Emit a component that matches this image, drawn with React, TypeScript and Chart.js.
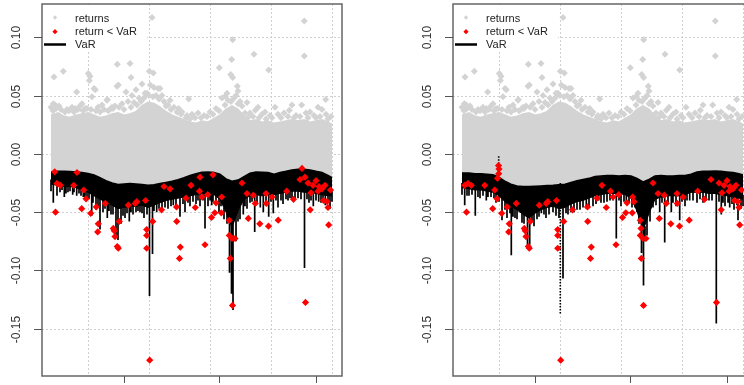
import React, { useEffect, useRef } from "react";
import { Chart, registerables } from "chart.js";
Chart.register(...registerables);

// ---------- axes ----------
const yTickValues = [0.1, 0.05, 0, -0.05, -0.1, -0.15];
const yTickLabels = ["0.10", "0.05", "0.00", "-0.05", "-0.10", "-0.15"];
const xTickPositions = [73.7, 169.3, 266];
const xGridPositions = [37.7, 99, 160.3, 221.3, 281.7];
const legendLabels = ["returns", "return < VaR", "VaR"];

// ---------- time grid used for the dense bands ----------
const bandT = [1, 8, 14, 20, 26, 32, 38, 44, 50, 56, 62, 68, 74, 80, 86, 92, 98, 104, 110, 116, 122, 128, 134, 140, 146, 152, 158, 164, 170, 176, 182, 188, 194, 200, 206, 212, 218, 224, 230, 236, 242, 248, 254, 260, 266, 272, 278, 282];

// upper edge of the dense cloud of returns
const returnsUpper = [0.033, 0.035, 0.032, 0.031, 0.033, 0.034, 0.035, 0.033, 0.031, 0.032, 0.034, 0.035, 0.033, 0.034, 0.036, 0.041, 0.044, 0.043, 0.04, 0.036, 0.033, 0.031, 0.029, 0.027, 0.026, 0.028, 0.027, 0.03, 0.033, 0.038, 0.041, 0.038, 0.032, 0.028, 0.029, 0.027, 0.028, 0.026, 0.027, 0.028, 0.029, 0.028, 0.029, 0.027, 0.028, 0.029, 0.027, 0.025];

// VaR, left panel (A): upper / lower edge of the dense oscillation
const varTopA = [-0.0155, -0.015, -0.015, -0.0152, -0.0155, -0.016, -0.0168, -0.018, -0.0205, -0.023, -0.025, -0.0262, -0.0258, -0.0255, -0.0258, -0.0262, -0.027, -0.0265, -0.0255, -0.0245, -0.0235, -0.0222, -0.0205, -0.0185, -0.017, -0.0158, -0.0155, -0.016, -0.0175, -0.0215, -0.0235, -0.0225, -0.0195, -0.0165, -0.0155, -0.0158, -0.016, -0.0175, -0.016, -0.015, -0.0138, -0.0133, -0.0133, -0.0138, -0.015, -0.016, -0.0185, -0.0205];
const varBottomA = [-0.026, -0.027, -0.028, -0.028, -0.029, -0.031, -0.033, -0.036, -0.039, -0.041, -0.044, -0.047, -0.046, -0.045, -0.045, -0.044, -0.046, -0.044, -0.042, -0.04, -0.039, -0.038, -0.037, -0.036, -0.035, -0.034, -0.034, -0.035, -0.039, -0.05, -0.063, -0.049, -0.039, -0.036, -0.035, -0.036, -0.035, -0.035, -0.034, -0.033, -0.032, -0.032, -0.033, -0.033, -0.034, -0.035, -0.036, -0.036];
const varSpikesA: [number, number][] = [[3.3, -0.042], [7, -0.036], [14.3, -0.037], [18, -0.033], [22.7, -0.035], [26.7, -0.036], [33.3, -0.037], [37, -0.04], [41.7, -0.053], [46, -0.048], [50, -0.065], [53, -0.05], [57.3, -0.055], [61, -0.052], [66, -0.07], [68, -0.074], [71, -0.06], [75, -0.055], [79.3, -0.058], [83, -0.052], [90, -0.05], [94, -0.055], [99.5, -0.122], [102.5, -0.086], [106.7, -0.05], [112, -0.048], [118, -0.047], [123.3, -0.044], [130, -0.054], [135, -0.05], [140, -0.045], [146, -0.043], [150, -0.045], [155, -0.064], [158, -0.045], [161.7, -0.044], [166, -0.042], [169, -0.05], [174, -0.056], [179.5, -0.102], [181.5, -0.12], [183, -0.134], [186, -0.075], [190, -0.056], [193.3, -0.052], [197, -0.047], [204.7, -0.067], [210.3, -0.046], [213.3, -0.05], [218.7, -0.054], [223.3, -0.051], [228, -0.046], [233, -0.043], [238, -0.04], [242, -0.039], [248, -0.038], [254.5, -0.098], [259, -0.042], [263.3, -0.045], [268.7, -0.041], [271, -0.042], [275.3, -0.044], [280, -0.047],
  [1, -0.032], [10, -0.033], [12, -0.031], [16, -0.034], [20, -0.032], [24, -0.033], [29, -0.034], [31, -0.036], [35, -0.038], [39, -0.039], [43, -0.042], [48, -0.045], [55, -0.047], [59, -0.049], [63, -0.052], [73, -0.053], [77, -0.051], [81, -0.05], [86, -0.05], [88, -0.049], [92, -0.051], [97, -0.052], [104, -0.049], [109, -0.047], [115, -0.046], [121, -0.045], [126, -0.044], [133, -0.043], [138, -0.042], [143, -0.041], [148, -0.04], [153, -0.04], [160, -0.04], [163, -0.041], [171, -0.045], [177, -0.06], [188, -0.058], [195, -0.045], [200, -0.042], [202, -0.041], [207, -0.042], [216, -0.041], [221, -0.041], [226, -0.04], [231, -0.04], [236, -0.039], [240, -0.038], [245, -0.038], [251, -0.039], [257, -0.039], [261, -0.04], [266, -0.04], [273, -0.041], [278, -0.042], [282, -0.041]];

// VaR, right panel (B)
const varTopB = [-0.0165, -0.0165, -0.017, -0.017, -0.0175, -0.018, -0.02, -0.0235, -0.026, -0.0275, -0.028, -0.028, -0.0278, -0.0275, -0.0272, -0.027, -0.0265, -0.026, -0.0245, -0.023, -0.022, -0.021, -0.0195, -0.019, -0.0185, -0.0185, -0.019, -0.0185, -0.019, -0.021, -0.024, -0.022, -0.019, -0.0185, -0.019, -0.019, -0.0185, -0.0185, -0.0175, -0.0155, -0.015, -0.015, -0.0148, -0.015, -0.0155, -0.016, -0.017, -0.018];
const varBottomB = [-0.029, -0.03, -0.031, -0.031, -0.032, -0.033, -0.036, -0.041, -0.045, -0.048, -0.052, -0.055, -0.051, -0.048, -0.046, -0.045, -0.047, -0.046, -0.043, -0.041, -0.04, -0.038, -0.036, -0.035, -0.034, -0.034, -0.034, -0.035, -0.038, -0.049, -0.066, -0.051, -0.039, -0.037, -0.036, -0.036, -0.036, -0.035, -0.033, -0.033, -0.033, -0.034, -0.034, -0.035, -0.036, -0.037, -0.038, -0.039];
const varSpikesB: [number, number][] = [[3.7, -0.044], [8, -0.036], [14.3, -0.053], [19, -0.038], [25.3, -0.04], [30, -0.037], [35, -0.042], [41, -0.057], [46, -0.055], [50.3, -0.087], [54, -0.055], [58.7, -0.05], [63, -0.06], [66.5, -0.08], [68.7, -0.078], [73, -0.062], [80.3, -0.051], [85, -0.055], [92, -0.05], [102, -0.107], [107, -0.052], [113, -0.05], [119, -0.048], [125.3, -0.047], [132, -0.045], [137.7, -0.04], [143, -0.042], [149, -0.04], [155.3, -0.0726], [160, -0.045], [165.3, -0.043], [171, -0.046], [176, -0.05], [180.5, -0.085], [182.5, -0.113], [186, -0.07], [192, -0.046], [198.7, -0.05], [203.7, -0.076], [210.3, -0.05], [215, -0.045], [218.7, -0.057], [224, -0.045], [228.7, -0.04], [236, -0.042], [242, -0.042], [248, -0.04], [255.3, -0.1455], [260.3, -0.052], [264, -0.045], [268.7, -0.046], [273, -0.048], [277, -0.057], [280, -0.047],
  [1, -0.035], [6, -0.036], [11, -0.035], [17, -0.037], [22, -0.036], [27, -0.037], [33, -0.038], [38, -0.041], [44, -0.048], [49, -0.051], [52, -0.054], [56, -0.056], [61, -0.059], [71, -0.058], [76, -0.056], [78, -0.054], [83, -0.052], [88, -0.052], [95, -0.053], [98, -0.055], [105, -0.051], [110, -0.05], [116, -0.048], [122, -0.046], [128, -0.045], [135, -0.043], [140, -0.042], [146, -0.041], [152, -0.04], [158, -0.04], [163, -0.041], [168, -0.042], [174, -0.046], [178, -0.06], [184, -0.075], [189, -0.058], [195, -0.044], [201, -0.042], [207, -0.042], [212, -0.042], [221, -0.041], [226, -0.04], [232, -0.04], [239, -0.039], [245, -0.04], [251, -0.04], [258, -0.041], [262, -0.042], [267, -0.042], [271, -0.043], [276, -0.044], [282, -0.045]];
// thin dotted jumps of VaR in panel B: [t, from, to]
const varDottedB: [number, number, number][] = [[37.7, -0.002, -0.03], [99.3, -0.025, -0.137]];

// scattered returns above the dense cloud
const returnsScatter: [number, number][] = [[4, 0.066], [13.3, 0.071], [3.3, 0.043], [26.7, 0.053], [38.3, 0.069], [40, 0.0666], [39.3, 0.063], [44, 0.056], [45.3, 0.055], [42, 0.049], [67.3, 0.077], [80, 0.0775], [81, 0.0655], [68.3, 0.059], [67, 0.058], [76, 0.053], [86, 0.055], [82, 0.05], [57, 0.046], [57.3, 0.0467], [62, 0.04], [25.3, 0.039], [32, 0.043], [5.3, 0.042], [99.3, 0.071], [103.3, 0.0695], [102, 0.117], [104, 0.057], [110, 0.056], [92, 0.06], [100.3, 0.059], [108, 0.056], [95, 0.052], [112, 0.05], [120, 0.046], [138.7, 0.047], [128.7, 0.039], [137, 0.033], [169.3, 0.074], [181.7, 0.081], [182.7, 0.098], [180.7, 0.068], [182.7, 0.0655], [187.3, 0.058], [188, 0.054], [175.3, 0.0495], [172, 0.048], [177, 0.052], [186, 0.05], [190, 0.045], [204, 0.0855], [218.7, 0.072], [254.3, 0.114], [254.3, 0.084], [239.3, 0.0375], [251.7, 0.042], [275.7, 0.0467], [205.3, 0.0374], [198, 0.0315], [272, 0.038], [197, 0.044], [208, 0.04], [215, 0.036], [225, 0.04], [234, 0.035], [242, 0.042], [260, 0.036], [268, 0.04], [1, 0.04], [9, 0.041], [17, 0.038], [22, 0.04], [30, 0.041], [35, 0.039], [48, 0.04], [52, 0.042], [60, 0.038], [65, 0.041], [72, 0.043], [78, 0.045], [84, 0.044], [89, 0.048], [97, 0.052], [106, 0.05], [114, 0.045], [118, 0.042], [124, 0.04], [132, 0.036], [142, 0.034], [148, 0.035], [154, 0.033], [160, 0.036], [166, 0.039], [178, 0.046], [184, 0.048], [192, 0.041], [200, 0.035], [212, 0.034], [220, 0.033], [228, 0.034], [246, 0.033], [256, 0.035], [264, 0.033], [276, 0.034], [281, 0.032],
  [3, 0.037], [6, 0.039], [11, 0.038], [15, 0.036], [19, 0.037], [24, 0.036], [28, 0.038], [33, 0.037], [37, 0.039], [41, 0.038], [46, 0.037], [50, 0.036], [54, 0.038], [58, 0.037], [63, 0.039], [69, 0.04], [74, 0.038], [81, 0.04], [87, 0.042], [91, 0.045], [94, 0.048], [99, 0.05], [103, 0.049], [109, 0.047], [116, 0.041], [121, 0.038], [127, 0.036], [131, 0.034], [136, 0.031], [140, 0.03], [145, 0.031], [151, 0.031], [157, 0.032], [163, 0.034], [169, 0.037], [175, 0.042], [181, 0.045], [188, 0.043], [195, 0.035], [203, 0.032], [209, 0.031], [216, 0.03], [222, 0.031], [231, 0.031], [238, 0.032], [244, 0.031], [250, 0.032], [258, 0.031], [266, 0.031], [270, 0.032], [278, 0.03]];

// returns below VaR (both panels)
const redCommon: [number, number][] = [[5.5, -0.05], [7, -0.0254], [10.3, -0.027], [23.7, -0.027], [31.7, -0.047], [33.7, -0.031], [36, -0.0386], [40.7, -0.051], [46.3, -0.0455], [48.3, -0.06], [47.7, -0.067], [55.3, -0.0425], [63.3, -0.064], [64.3, -0.066], [65, -0.071], [67.3, -0.0795], [68.3, -0.081], [69.3, -0.058], [78.3, -0.044], [85.3, -0.0425], [86.7, -0.041], [95.5, -0.04], [96.7, -0.065], [96.7, -0.07], [96.7, -0.081], [99.7, -0.177], [102.7, -0.058], [111.5, -0.048], [126.5, -0.0455], [126.7, -0.058], [130.3, -0.08], [129.5, -0.0897], [136, -0.038], [141, -0.027], [145.3, -0.046], [149.5, -0.032], [152, -0.037], [155, -0.078], [157.7, -0.035], [161.5, -0.0545], [164.8, -0.0506], [166, -0.042], [171.3, -0.0506], [171.7, -0.037], [179.3, -0.057], [179.3, -0.07], [182, -0.0726], [185, -0.0726], [180.3, -0.0897], [182.5, -0.13], [192, -0.025], [197, -0.034], [198.3, -0.0554], [203.3, -0.0354], [205.3, -0.0425], [209.8, -0.06], [216, -0.034], [216.3, -0.0425], [218.5, -0.062], [222, -0.037], [228.2, -0.0569], [236.7, -0.032], [243.5, -0.039], [255.5, -0.1275], [260.2, -0.048], [261, -0.0334], [273.5, -0.04], [277, -0.041], [278, -0.046], [278.7, -0.061], [280.5, -0.031], [250, -0.022], [258, -0.025], [263, -0.027], [266, -0.023], [269, -0.028], [272, -0.03], [275, -0.027], [268, -0.032]];
const redOnlyA: [number, number][] = [[4.7, -0.0154], [27, -0.016], [252, -0.0125], [255, -0.02], [150, -0.02], [163, -0.018], [114, -0.028], [120, -0.03]];
const redOnlyB: [number, number][] = [[37.5, -0.01], [38, -0.013], [37.7, -0.017], [36.5, -0.021], [3.7, -0.027], [173, -0.041], [180, -0.064]];

// ---------- colours ----------
const GRAY = "#d3d3d3";
const RED = "#ff0000";

function nearestBand(t: number) {
  let b = 0;
  for (let i = 0; i < bandT.length; i++) if (Math.abs(bandT[i] - t) < Math.abs(bandT[b] - t)) b = i;
  return b;
}

function buildDatasets(varTop: number[], varBottom: number[], spikes: [number, number][], dotted: [number, number, number][], reds: [number, number][]) {
  const spikeData: any[] = [];
  spikes.forEach(([t, v]) => {
    const base = varBottom[nearestBand(t)] + 0.004;
    spikeData.push({ x: t, y: base }, { x: t, y: v }, { x: t, y: null });
  });
  const dottedData: any[] = [];
  dotted.forEach(([t, a, b]) => {
    dottedData.push({ x: t, y: a }, { x: t, y: b }, { x: t, y: null });
  });
  return [
    { label: "band", data: bandT.map((t, i) => ({ x: t, y: returnsUpper[i] })), borderColor: GRAY, borderWidth: 2, backgroundColor: GRAY, fill: 2, pointRadius: 0, order: 6 },
    { label: "varTop", data: bandT.map((t, i) => ({ x: t, y: varTop[i] })), borderColor: "#000", borderWidth: 1.5, backgroundColor: "#000", fill: "+1", pointRadius: 0, order: 2 },
    { label: "varBottom", data: bandT.map((t, i) => ({ x: t, y: varBottom[i] })), borderColor: "#000", borderWidth: 1, fill: false, pointRadius: 0, order: 2 },
    { label: "spikes", data: spikeData, borderColor: "#000", borderWidth: 1.7, fill: false, pointRadius: 0, spanGaps: false, order: 2 },
    { label: "dotted", data: dottedData, borderColor: "#000", borderWidth: 1.6, borderDash: [1.5, 1.5], fill: false, pointRadius: 0, spanGaps: false, order: 2 },
    { label: "returns", data: returnsScatter.map(([t, v]) => ({ x: t, y: v })), showLine: false, pointStyle: "rectRot", pointRadius: 3.5, pointBackgroundColor: GRAY, pointBorderWidth: 0, order: 5 },
    { label: "red", data: reds.map(([t, v]) => ({ x: t, y: v })), showLine: false, pointStyle: "rectRot", pointRadius: 3.6, pointBackgroundColor: RED, pointBorderWidth: 0, order: 0 },
  ];
}

const FONT = '"Liberation Sans", Arial, sans-serif';

const rPlugin = {
  id: "rStyle",
  beforeDatasetsDraw(chart: any) {
    const { ctx, chartArea: a, scales } = chart;
    ctx.save();
    ctx.strokeStyle = "#cfcfcf";
    ctx.lineWidth = 1;
    ctx.setLineDash([2, 2]);
    yTickValues.forEach((v) => {
      const y = Math.round(scales.y.getPixelForValue(v)) + 0.5;
      ctx.beginPath();
      ctx.moveTo(a.left, y);
      ctx.lineTo(a.right, y);
      ctx.stroke();
    });
    xGridPositions.forEach((t) => {
      const x = Math.round(scales.x.getPixelForValue(t)) + 0.5;
      ctx.beginPath();
      ctx.moveTo(x, a.top);
      ctx.lineTo(x, a.bottom);
      ctx.stroke();
    });
    ctx.restore();
  },
  afterDraw(chart: any) {
    const { ctx, chartArea: a, scales } = chart;
    ctx.save();
    // legend (white background, no border)
    ctx.fillStyle = "#fff";
    ctx.fillRect(a.left + 1, a.top + 1, 104, 45);
    const diamond = (x: number, y: number, r: number, c: string) => {
      ctx.fillStyle = c;
      ctx.beginPath();
      ctx.moveTo(x - r, y);
      ctx.lineTo(x, y - r);
      ctx.lineTo(x + r, y);
      ctx.lineTo(x, y + r);
      ctx.closePath();
      ctx.fill();
    };
    diamond(a.left + 13, a.top + 13.5, 2.2, GRAY);
    diamond(a.left + 13, a.top + 27.7, 2.6, RED);
    ctx.strokeStyle = "#000";
    ctx.lineWidth = 2.5;
    ctx.beginPath();
    ctx.moveTo(a.left + 2, a.top + 40.5);
    ctx.lineTo(a.left + 24, a.top + 40.5);
    ctx.stroke();
    ctx.fillStyle = "#222";
    ctx.font = "11px " + FONT;
    ctx.textAlign = "left";
    ctx.textBaseline = "middle";
    legendLabels.forEach((s, i) => ctx.fillText(s, a.left + 33, a.top + 15.3 + i * 13));

    // box
    ctx.strokeStyle = "#666";
    ctx.lineWidth = 1.5;
    ctx.strokeRect(a.left, a.top, a.right - a.left, a.bottom - a.top);

    // y ticks + rotated labels
    ctx.lineWidth = 1;
    ctx.strokeStyle = "#555";
    ctx.fillStyle = "#333";
    ctx.font = "12px " + FONT;
    ctx.textAlign = "center";
    ctx.textBaseline = "middle";
    yTickValues.forEach((v, i) => {
      const y = Math.round(scales.y.getPixelForValue(v)) + 0.5;
      ctx.beginPath();
      ctx.moveTo(a.left - 8, y);
      ctx.lineTo(a.left, y);
      ctx.stroke();
      ctx.save();
      ctx.translate(a.left - 25, y);
      ctx.rotate(-Math.PI / 2);
      ctx.fillText(yTickLabels[i], 0, 0);
      ctx.restore();
    });
    // x ticks (labels fall outside the picture)
    xTickPositions.forEach((t) => {
      const x = Math.round(scales.x.getPixelForValue(t)) + 0.5;
      ctx.beginPath();
      ctx.moveTo(x, a.bottom);
      ctx.lineTo(x, a.bottom + 7);
      ctx.stroke();
    });
    ctx.restore();
  },
};

function makeConfig(datasets: any[]) {
  return {
    type: "line" as const,
    data: { datasets },
    options: {
      responsive: false,
      animation: false as const,
      layout: { padding: { left: 42, right: 69, top: 4, bottom: 9 } },
      scales: {
        x: { type: "linear" as const, min: -8, max: 292, display: false },
        y: { type: "linear" as const, min: -0.1906, max: 0.1286, display: false },
      },
      plugins: { legend: { display: false }, tooltip: { enabled: false } },
      elements: { line: { tension: 0 } },
    },
    plugins: [rPlugin],
  };
}

export default function App() {
  const refA = useRef<HTMLCanvasElement>(null);
  const refB = useRef<HTMLCanvasElement>(null);
  useEffect(() => {
    const a = new Chart(refA.current as any, makeConfig(buildDatasets(varTopA, varBottomA, varSpikesA, [], [...redCommon, ...redOnlyA])) as any);
    const b = new Chart(refB.current as any, makeConfig(buildDatasets(varTopB, varBottomB, varSpikesB, varDottedB, [...redCommon, ...redOnlyB])) as any);
    return () => {
      a.destroy();
      b.destroy();
    };
  }, []);
  return (
    <div style={{ position: "fixed", left: 0, top: 0, width: 744, height: 385, overflow: "hidden", background: "#fff" }}>
      <canvas ref={refA} width={411} height={385} style={{ position: "absolute", left: 0, top: 0, width: 411, height: 385 }} />
      <canvas ref={refB} width={411} height={385} style={{ position: "absolute", left: 411, top: 0, width: 411, height: 385 }} />
    </div>
  );
}
